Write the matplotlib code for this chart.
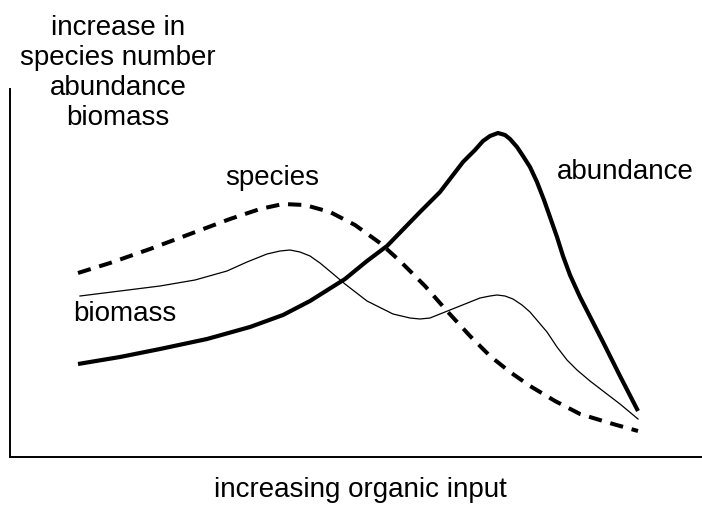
import matplotlib
matplotlib.use("Agg")
import matplotlib.pyplot as plt

plt.rcParams['font.family'] = ['Liberation Sans', 'DejaVu Sans']

# curves (x = organic input, y = response, arbitrary units)
species_x = [68, 100, 140, 180, 220, 250, 273, 295, 320, 345, 370, 390, 415, 437,
             460, 480, 500, 520, 545, 570, 603, 628]
species_y = [184, 194, 208, 223, 238, 248, 253, 252, 245, 232, 214, 196, 171, 146,
             121, 101, 85, 71, 56, 43, 33, 26]

abundance_x = [68, 110, 150, 197, 240, 273, 300, 335, 357, 377, 410, 430, 453, 465,
               473, 480, 488, 495, 500, 507, 513, 520, 527, 534, 540, 547, 553, 560,
               570, 593, 610, 628]
abundance_y = [93, 100, 108, 118, 130, 142, 156, 178, 196, 211, 245, 265, 295, 307,
               316, 321, 324, 322, 318, 310, 301, 290, 275, 257, 240, 220, 201, 182,
               160, 115, 81, 46]

biomass_x = [70, 110, 150, 185, 217, 237, 257, 270, 280, 290, 300, 310, 322, 335,
             357, 383, 400, 410, 420, 430, 450, 470, 480, 487, 495, 503, 512, 520,
             537, 547, 557, 567, 580, 593, 610, 628]
biomass_y = [161, 166, 171, 177, 186, 195, 203, 206, 207, 205, 201, 194, 184, 173,
             156, 143, 139, 138, 139, 143, 151, 159, 161, 162, 161, 158, 152, 145,
             125, 110, 97, 87, 76, 66, 53, 38]

fig = plt.figure(figsize=(7.02, 5.06), dpi=100)
ax = fig.add_axes([10 / 702, 48 / 506, 692 / 702, 368 / 506])

ax.plot(species_x, species_y, color='black', lw=2.9, dashes=(3.3, 2.2))
ax.plot(abundance_x, abundance_y, color='black', lw=3.0, solid_capstyle='butt',
        solid_joinstyle='round')
ax.plot(biomass_x, biomass_y, color='black', lw=0.9, solid_joinstyle='round')

ax.set_xlim(0, 692)
ax.set_ylim(0, 368)
ax.set_xticks([])
ax.set_yticks([])
for s in ['top', 'right']:
    ax.spines[s].set_visible(False)
for s in ['left', 'bottom']:
    ax.spines[s].set_linewidth(1.4)

fs = 20
ax.text(262, 280, 'species', fontsize=fs, ha='center', va='center')
ax.text(615, 286, 'abundance', fontsize=fs, ha='center', va='center')
ax.text(115, 144, 'biomass', fontsize=fs, ha='center', va='center')

fig.text(118 / 702, 1 - 73 / 506, 'increase in\nspecies number\nabundance\nbiomass',
         fontsize=fs, ha='center', va='center', linespacing=1.2)
fig.text(360 / 702, 1 - 490 / 506, 'increasing organic input',
         fontsize=fs, ha='center', va='center')

fig.savefig('out.png', dpi=100)
